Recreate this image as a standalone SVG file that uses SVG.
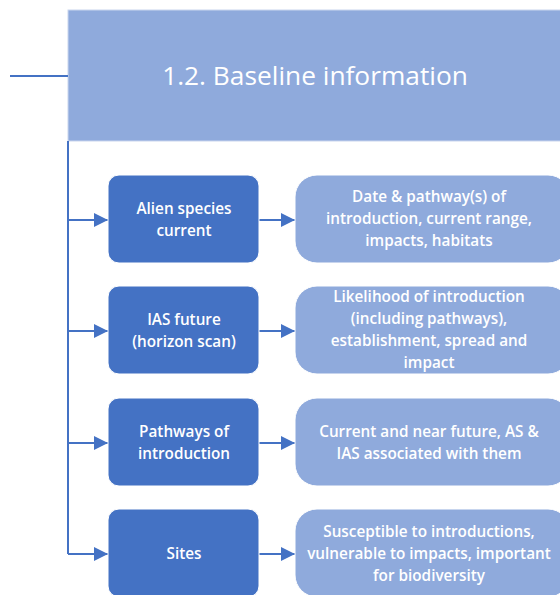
<svg xmlns="http://www.w3.org/2000/svg" width="560" height="595" viewBox="0 0 560 595">
  <defs>
    <marker id="arrow" viewBox="0 0 14 14" refX="14" refY="7" markerWidth="14" markerHeight="14" markerUnits="userSpaceOnUse" orient="auto">
      <path d="M0,0 L14,7 L0,14 Z" fill="#4472c4"/>
    </marker>
    <style>
      .line { stroke: #4472c4; stroke-width: 2; fill: none; }
      .arr { stroke: #4472c4; stroke-width: 2; fill: none; marker-end: url(#arrow); }
      .dark { fill: #4472c4; stroke: #ffffff; stroke-width: 1; }
      .light { fill: #8faadc; stroke: #ffffff; stroke-width: 1; }
      .head { fill: #8faadc; stroke: #c9d5ee; stroke-width: 1; }
      text { font-family: "Open Sans", "Liberation Sans", sans-serif; fill: #ffffff; text-anchor: middle; }
      .t { font-size: 15.3px; font-weight: 600; }
      .h { font-size: 26.3px; }
    </style>
  </defs>

  <!-- header -->
  <g id="header">
    <rect class="head" x="68" y="10" width="500" height="131"/>
    <text class="h" x="315" y="85">1.2. Baseline information</text>
  </g>

  <!-- connectors -->
  <g id="connectors">
    <line class="line" x1="10" y1="76" x2="68" y2="76"/>
    <polyline class="line" points="68,141 68,554"/>
    <line class="arr" x1="68" y1="220" x2="108" y2="220"/>
    <line class="arr" x1="68" y1="331" x2="108" y2="331"/>
    <line class="arr" x1="68" y1="443" x2="108" y2="443"/>
    <line class="arr" x1="68" y1="554" x2="108" y2="554"/>
    <line class="arr" x1="259" y1="220" x2="295" y2="220"/>
    <line class="arr" x1="259" y1="331" x2="295" y2="331"/>
    <line class="arr" x1="259" y1="443" x2="295" y2="443"/>
    <line class="arr" x1="259" y1="554" x2="295" y2="554"/>
  </g>

  <!-- row 1 -->
  <g id="alien-current">
    <rect class="dark" x="108" y="175" width="151" height="88" rx="11"/>
    <text class="t" x="184" y="214">Alien species</text>
    <text class="t" x="184" y="236">current</text>
  </g>
  <g id="alien-current-detail">
    <rect class="light" x="295" y="175" width="275" height="88" rx="22"/>
    <text class="t" x="429" y="202">Date &amp; pathway(s) of</text>
    <text class="t" x="429" y="224">introduction, current range,</text>
    <text class="t" x="429" y="246">impacts, habitats</text>
  </g>

  <!-- row 2 -->
  <g id="ias-future">
    <rect class="dark" x="108" y="286" width="151" height="88" rx="11"/>
    <text class="t" x="184" y="325">IAS future</text>
    <text class="t" x="184" y="347">(horizon scan)</text>
  </g>
  <g id="ias-future-detail">
    <rect class="light" x="295" y="286" width="275" height="88" rx="22"/>
    <text class="t" x="429" y="302">Likelihood of introduction</text>
    <text class="t" x="429" y="324">(including pathways),</text>
    <text class="t" x="429" y="346">establishment, spread and</text>
    <text class="t" x="429" y="368">impact</text>
  </g>

  <!-- row 3 -->
  <g id="pathways">
    <rect class="dark" x="108" y="398" width="151" height="88" rx="11"/>
    <text class="t" x="184" y="437">Pathways of</text>
    <text class="t" x="184" y="459">introduction</text>
  </g>
  <g id="pathways-detail">
    <rect class="light" x="295" y="398" width="275" height="88" rx="22"/>
    <text class="t" x="429" y="437">Current and near future, AS &amp;</text>
    <text class="t" x="429" y="459">IAS associated with them</text>
  </g>

  <!-- row 4 -->
  <g id="sites">
    <rect class="dark" x="108" y="509" width="151" height="88" rx="11"/>
    <text class="t" x="184" y="559">Sites</text>
  </g>
  <g id="sites-detail">
    <rect class="light" x="295" y="509" width="275" height="88" rx="22"/>
    <text class="t" x="429" y="537">Susceptible to introductions,</text>
    <text class="t" x="429" y="559">vulnerable to impacts, important</text>
    <text class="t" x="429" y="581">for biodiversity</text>
  </g>
</svg>
